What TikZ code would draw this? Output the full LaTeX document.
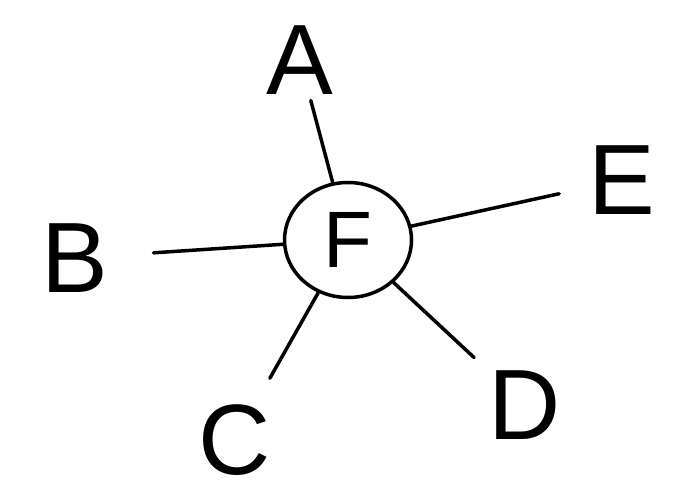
\documentclass[tikz,border=0pt]{standalone}
\usepackage{fontspec}
\setmainfont{Liberation Sans}
\usetikzlibrary{shapes.geometric}
\begin{document}
\begin{tikzpicture}[x=1pt,y=-1pt,
  letter/.style={inner sep=0pt,font=\fontsize{100}{100}\selectfont},
  hub/.style={draw,line width=3.5pt,ellipse,minimum width=127pt,minimum height=115pt,inner sep=0pt,font=\fontsize{80}{80}\selectfont},
  link/.style={line width=3.5pt,line cap=round}]
\useasboundingbox (0,0) rectangle (693,494);
\node[hub] (F) at (348,240) {F};
\node[letter] (A) at (300,60) {A};
\node[letter] (B) at (75,258) {B};
\node[letter] (C) at (235,440) {C};
\node[letter] (D) at (525,405) {D};
\node[letter] (E) at (622,180) {E};
\draw[link,shorten >=6pt] (F) -- (A);
\draw[link,shorten >=45pt] (F) -- (B);
\draw[link,shorten >=30pt] (F) -- (C);
\draw[link,shorten >=20pt] (F) -- (D);
\draw[link,shorten >=30pt] (F) -- (E);
\end{tikzpicture}
\end{document}
